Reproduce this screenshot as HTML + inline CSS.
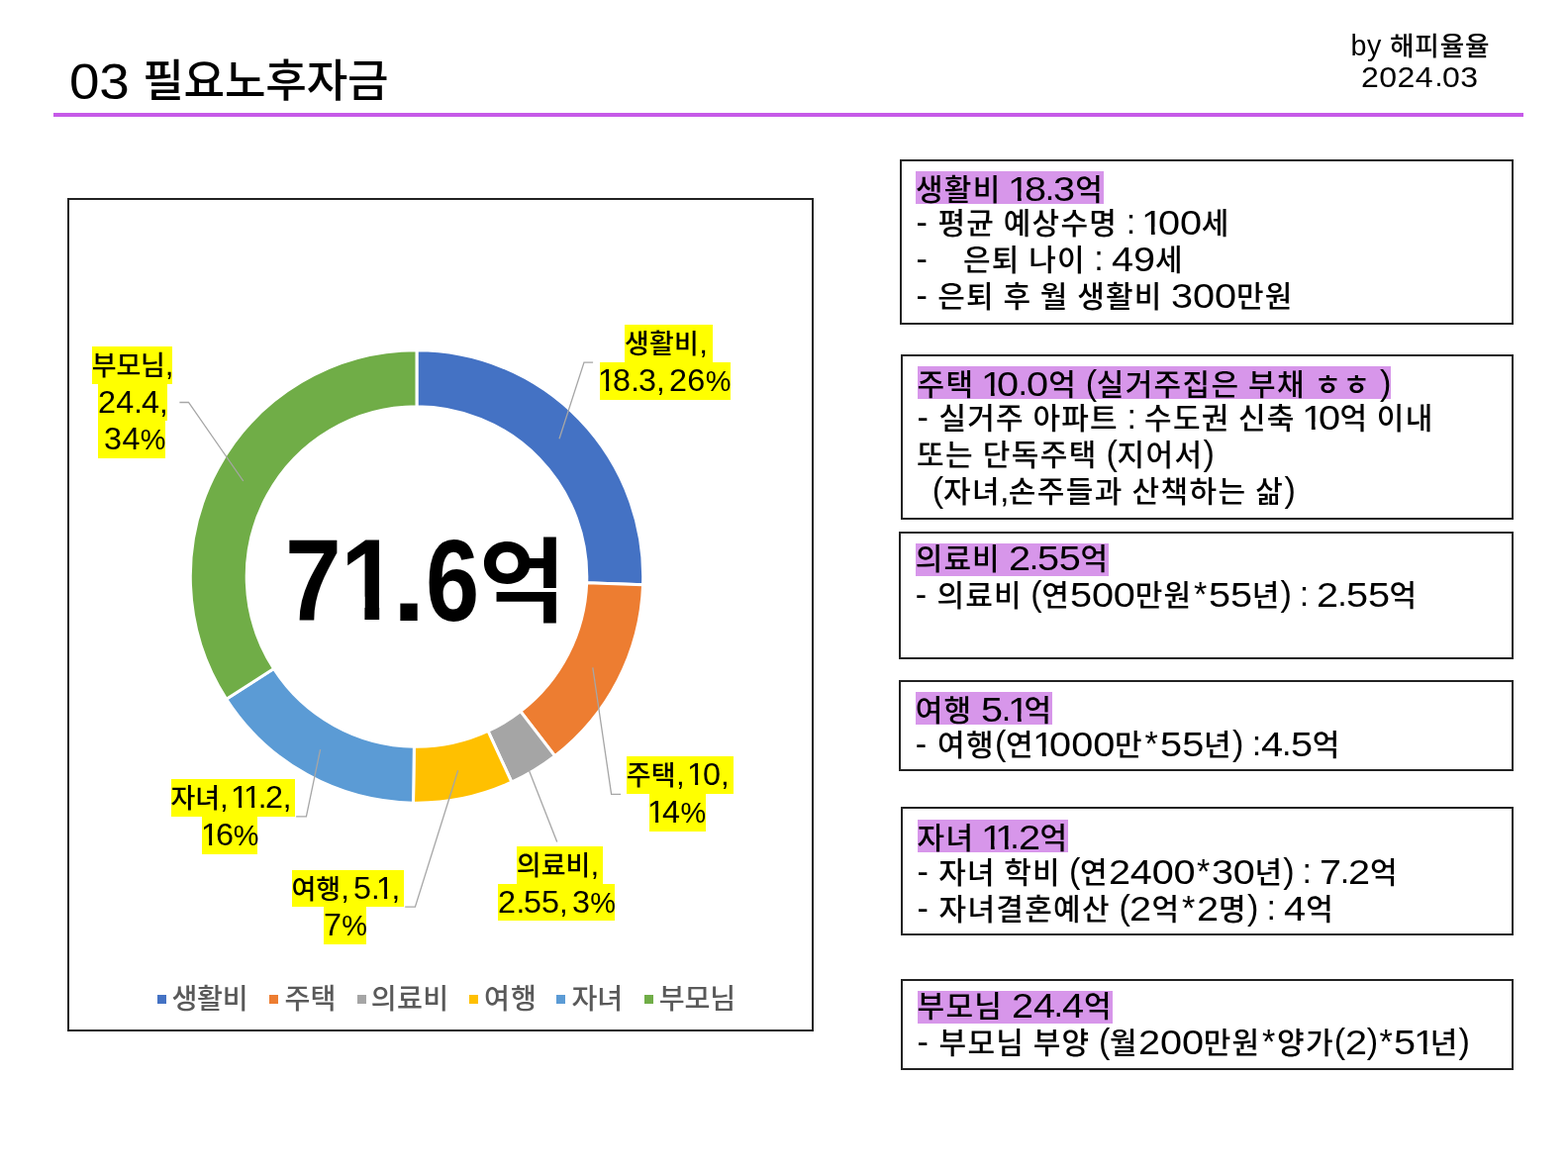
<!DOCTYPE html>
<html lang="ko">
<head>
<meta charset="utf-8">
<title>03 필요노후자금</title>
<style>
html,body{margin:0;padding:0;background:#fff;}
body{width:1584px;height:1188px;position:relative;overflow:hidden;
 font-family:"Liberation Sans","Noto Sans CJK KR",sans-serif;color:#000;}
.t{position:absolute;white-space:pre;--x:0px;--ds:1.16;--dm:0.089em;letter-spacing:calc(-0.01em + var(--x));word-spacing:-0.016em;}
.k{font-weight:500;font-size:0.92em;letter-spacing:var(--x);}
.d,.n{position:relative;top:0.035em;}
.d{display:inline-block;--n:1;transform:scaleX(var(--ds));transform-origin:0 50%;margin-right:calc(var(--n)*var(--dm));letter-spacing:var(--x);}
.n{display:inline-block;line-height:1em;transform:scaleX(var(--ds));transform-origin:0 50%;margin:0 -0.076em 0 -0.06em;letter-spacing:var(--x);
 clip-path:polygon(0 0,100% 0,100% 0.6em,0.345em 0.6em,0.345em 1em,0.25em 1em,0.25em 0.6em,0 0.6em);}
.p{letter-spacing:calc(-0.035em + var(--x));}
.c{margin-left:-0.03em;letter-spacing:calc(-0.03em + var(--x));}
.h{letter-spacing:calc(0.06em + var(--x));}
.w{margin-left:0.05em;letter-spacing:calc(0.05em + var(--x));}
.title{font-size:50.8px;line-height:60px;--ds:1.08;--dm:0.07em;word-spacing:-0.05em;}
.title .k{font-size:45.2px;}
.rule{position:absolute;left:54px;top:113.5px;width:1484.5px;height:4.4px;background:#c65ae8;}
.by{font-size:28.7px;line-height:32px;--ds:1.067;--dm:0.057em;}
.by .k{font-size:26.7px;}
.by .d,.by .n{font-size:30px;}
.chart{position:absolute;left:68px;top:200px;width:750px;height:838px;border:2px solid #222;}
.box{position:absolute;border:2px solid #222;box-sizing:border-box;}
.ln{font-size:34.2px;line-height:35px;height:34px;}
.ln .k{font-size:30px;letter-spacing:calc(1.3px + var(--x));}
.hl{line-height:29.8px !important;}
.hl{background:#d796ea;}
.lab{background:#ffff00;font-size:31.4px;line-height:37.2px;height:38px;word-spacing:-0.1em;letter-spacing:var(--x);--ds:1.03;--dm:0.017em;}
.lab .k{font-size:27px;}
.lab .d,.lab .n{top:0;}
.lab .c{margin-left:0;letter-spacing:calc(-0.05em + var(--x));}
.lab .p{font-size:0.92em;letter-spacing:calc(-0.03em + var(--x));}
.leg{color:#595959;font-size:28.2px;line-height:30px;font-family:"Noto Sans CJK KR","Liberation Sans",sans-serif;}
.leg .k{font-weight:500;font-size:1em;letter-spacing:calc(-1.5px + var(--x));}
.mk{position:absolute;width:9px;height:9px;top:1004.5px;}
.big{position:absolute;left:0;top:0;font-weight:bold;font-size:100px;line-height:150px;white-space:pre;}
.big span{position:absolute;display:block;transform-origin:0 0;}
.big .k{font-weight:bold;font-size:1em;letter-spacing:0;}
.big .one{clip-path:polygon(0 0,100% 0,100% 0.9em,0.372em 0.9em,0.372em 1.2em,0.232em 1.2em,0.232em 0.9em,0 0.9em);}
svg{position:absolute;left:0;top:0;}
</style>
</head>
<body>

<div id="ttl" class="t title" style="left:70.00px;top:51.20px;--x:-0.188px;"><span class="d" style="--n:2">03</span> <span class="k">필요노후자금</span></div>
<div class="rule"></div>
<div id="by1" class="t by" style="left:1364.50px;top:30.20px;--x:0.833px;">by <span class="k">해피율율</span></div>
<div id="by2" class="t by" style="left:1375.00px;top:61.20px;--x:0.417px;"><span class="d" style="--n:4">2024</span><span class="c">.</span><span class="d" style="--n:2">03</span></div>
<div class="chart"></div>
<svg width="1584" height="1188" viewBox="0 0 1584 1188">
<path d="M421.00 353.80A228.70 228.70 0 0 1 649.55 590.78L592.69 588.72A171.80 171.80 0 0 0 421.00 410.70Z" fill="#4472c4" stroke="#fff" stroke-width="3" stroke-linejoin="miter"/>
<path d="M649.55 590.78A228.70 228.70 0 0 1 560.57 763.67L525.85 718.60A171.80 171.80 0 0 0 592.69 588.72Z" fill="#ed7d31" stroke="#fff" stroke-width="3" stroke-linejoin="miter"/>
<path d="M560.57 763.67A228.70 228.70 0 0 1 516.86 790.14L493.01 738.48A171.80 171.80 0 0 0 525.85 718.60Z" fill="#a5a5a5" stroke="#fff" stroke-width="3" stroke-linejoin="miter"/>
<path d="M516.86 790.14A228.70 228.70 0 0 1 417.49 811.17L418.36 754.28A171.80 171.80 0 0 0 493.01 738.48Z" fill="#ffc000" stroke="#fff" stroke-width="3" stroke-linejoin="miter"/>
<path d="M417.49 811.17A228.70 228.70 0 0 1 228.69 706.28L276.54 675.48A171.80 171.80 0 0 0 418.36 754.28Z" fill="#5b9bd5" stroke="#fff" stroke-width="3" stroke-linejoin="miter"/>
<path d="M228.69 706.28A228.70 228.70 0 0 1 421.00 353.80L421.00 410.70A171.80 171.80 0 0 0 276.54 675.48Z" fill="#70ad47" stroke="#fff" stroke-width="3" stroke-linejoin="miter"/>
<polyline points="565.0,443.3 590.0,366.1 599.1,366.1" fill="none" stroke="#a6a6a6" stroke-width="1.3"/>
<polyline points="598.8,674.4 617.6,802.4 627.1,802.4" fill="none" stroke="#a6a6a6" stroke-width="1.3"/>
<polyline points="534.7,779.1 562.7,850.6" fill="none" stroke="#a6a6a6" stroke-width="1.3"/>
<polyline points="462.7,778.3 419.4,916.1 409.2,916.1" fill="none" stroke="#a6a6a6" stroke-width="1.3"/>
<polyline points="323.6,757.1 309.4,824.8 299.1,824.8" fill="none" stroke="#a6a6a6" stroke-width="1.3"/>
<polyline points="245.8,486.0 190.5,406.5 181.4,406.5" fill="none" stroke="#a6a6a6" stroke-width="1.3"/>
</svg>
<div id="lab0" class="t lab" style="left:630.90px;top:328.20px;--x:0.266px;height:37.9px;"><span class="k">생활비</span><span class="c">,</span> </div>
<div id="lab1" class="t lab" style="left:605.50px;top:366.10px;--x:0.255px;height:37.8px;"><span class="n">1</span><span class="d">8</span><span class="c">.</span><span class="d">3</span><span class="c">,</span> <span class="d" style="--n:2">26</span><span class="p">%</span></div>
<div id="lab2" class="t lab" style="left:632.72px;top:764.20px;--x:0.262px;height:38.2px;"><span class="k">주택</span><span class="c">,</span> <span class="n">1</span><span class="d">0</span><span class="c">,</span> </div>
<div id="lab3" class="t lab" style="left:655.90px;top:802.40px;--x:0.260px;height:37.8px;"><span class="n">1</span><span class="d">4</span><span class="p">%</span></div>
<div id="lab4" class="t lab" style="left:521.82px;top:855.20px;--x:0.063px;height:37.8px;"><span class="k">의료비</span><span class="c">,</span> </div>
<div id="lab5" class="t lab" style="left:503.32px;top:893.00px;--x:0.135px;height:37.3px;"><span class="d">2</span><span class="c">.</span><span class="d" style="--n:2">55</span><span class="c">,</span> <span class="d">3</span><span class="p">%</span></div>
<div id="lab6" class="t lab" style="left:294.50px;top:879.10px;--x:0.014px;height:37.0px;"><span class="k">여행</span><span class="c">,</span> <span class="d">5</span><span class="c">.</span><span class="n">1</span><span class="c">,</span> </div>
<div id="lab7" class="t lab" style="left:327.40px;top:916.10px;--x:-0.203px;height:38.3px;"><span class="d">7</span><span class="p">%</span></div>
<div id="lab8" class="t lab" style="left:172.60px;top:787.40px;--x:-0.109px;height:37.4px;"><span class="k">자녀</span><span class="c">,</span> <span class="n">1</span><span class="n">1</span><span class="c">.</span><span class="d">2</span><span class="c">,</span> </div>
<div id="lab9" class="t lab" style="left:204.40px;top:824.80px;--x:0.026px;height:38.4px;"><span class="n">1</span><span class="d">6</span><span class="p">%</span></div>
<div id="lab10" class="t lab" style="left:92.72px;top:349.70px;--x:-0.148px;height:37.9px;"><span class="k">부모님</span><span class="c">,</span></div>
<div id="lab11" class="t lab" style="left:98.82px;top:387.60px;--x:0.278px;height:37.8px;"><span class="d" style="--n:2">24</span><span class="c">.</span><span class="d">4</span><span class="c">,</span></div>
<div id="lab12" class="t lab" style="left:98.82px;top:425.40px;--x:0.449px;height:37.9px;"> <span class="d" style="--n:2">34</span><span class="p">%</span></div>
<div class="big"><span style="left:288.3px;top:496.8px;transform:scale(1.022,1.175)">7</span><span class="one" style="left:343.5px;top:496.8px;transform:scale(1.053,1.175)">1</span><span style="left:395.6px;top:499.0px;transform:scale(1.229,1.167)">.</span><span style="left:429.7px;top:498.6px;transform:scale(0.975,1.161)">6</span><span class="k" style="left:484.4px;top:517.7px;transform:scale(0.954,0.932)">억</span></div>
<div class="mk" style="left:158.6px;background:#4472c4"></div>
<div id="leg0" class="t leg" style="left:173.40px;top:992.20px;--x:1.250px;"><span class="k">생활비</span></div>
<div class="mk" style="left:272.3px;background:#ed7d31"></div>
<div id="leg1" class="t leg" style="left:287.60px;top:992.20px;--x:1.500px;"><span class="k">주택</span></div>
<div class="mk" style="left:360.6px;background:#a5a5a5"></div>
<div id="leg2" class="t leg" style="left:374.80px;top:992.20px;--x:1.750px;"><span class="k">의료비</span></div>
<div class="mk" style="left:473.9px;background:#ffc000"></div>
<div id="leg3" class="t leg" style="left:489.00px;top:992.20px;--x:2.500px;"><span class="k">여행</span></div>
<div class="mk" style="left:562.4px;background:#5b9bd5"></div>
<div id="leg4" class="t leg" style="left:577.40px;top:992.20px;--x:1.500px;"><span class="k">자녀</span></div>
<div class="mk" style="left:651.1px;background:#70ad47"></div>
<div id="leg5" class="t leg" style="left:665.80px;top:992.20px;--x:1.250px;"><span class="k">부모님</span></div>
<div class="box" style="left:908.5px;top:160.7px;width:620.2px;height:166.9px"></div>
<div id="b0_0" class="t ln hl" style="left:924.90px;top:172.90px;--x:0.016px;height:33.2px;line-height:33.2px;"><span class="k">생활비</span> <span class="n">1</span><span class="d">8</span><span class="c">.</span><span class="d">3</span><span class="k">억</span></div>
<div id="b0_1" class="t ln" style="left:925.40px;top:207.30px;--x:-0.033px;"><span class="h">-</span> <span class="k">평균</span> <span class="k">예상수명</span> : <span class="n">1</span><span class="d" style="--n:2">00</span><span class="k">세</span></div>
<div id="b0_2" class="t ln" style="left:925.40px;top:244.30px;--x:-0.067px;"><span class="h">-</span>    <span class="k">은퇴</span> <span class="k">나이</span> : <span class="d" style="--n:2">49</span><span class="k">세</span></div>
<div id="b0_3" class="t ln" style="left:925.40px;top:281.30px;--x:-0.088px;"><span class="h">-</span> <span class="k">은퇴</span> <span class="k">후</span> <span class="k">월</span> <span class="k">생활비</span> <span class="d" style="--n:3">300</span><span class="k">만원</span></div>
<div class="box" style="left:910.2px;top:357.7px;width:618.5px;height:167.1px"></div>
<div id="b1_0" class="t ln hl" style="left:926.60px;top:369.90px;--x:0.019px;height:33.2px;line-height:33.2px;"><span class="k">주택</span> <span class="n">1</span><span class="d">0</span><span class="c">.</span><span class="d">0</span><span class="k">억</span> (<span class="k">실거주집은</span> <span class="k">부채</span> <span class="k">ㅎㅎ</span> )</div>
<div id="b1_1" class="t ln" style="left:926.60px;top:404.30px;--x:-0.083px;"><span class="h">-</span> <span class="k">실거주</span> <span class="k">아파트</span> : <span class="k">수도권</span> <span class="k">신축</span> <span class="n">1</span><span class="d">0</span><span class="k">억</span> <span class="k">이내</span></div>
<div id="b1_2" class="t ln" style="left:926.10px;top:441.30px;--x:0.083px;"><span class="k">또는</span> <span class="k">단독주택</span> (<span class="k">지어서</span>)</div>
<div id="b1_3" class="t ln" style="left:933.10px;top:478.30px;--x:0.125px;"> (<span class="k">자녀</span><span class="c">,</span><span class="k">손주들과</span> <span class="k">산책하는</span> <span class="k">삶</span>)</div>
<div class="box" style="left:908.4px;top:537.2px;width:620.3px;height:129.3px"></div>
<div id="b2_0" class="t ln hl" style="left:924.82px;top:548.80px;--x:-0.274px;height:33.2px;line-height:33.2px;"><span class="k">의료비</span> <span class="d">2</span><span class="c">.</span><span class="d" style="--n:2">55</span><span class="k">억</span></div>
<div id="b2_1" class="t ln" style="left:924.80px;top:583.20px;--x:-0.140px;"><span class="h">-</span> <span class="k">의료비</span> (<span class="k">연</span><span class="d" style="--n:3">500</span><span class="k">만원</span><span class="w">*</span><span class="d" style="--n:2">55</span><span class="k">년</span>) : <span class="d">2</span><span class="c">.</span><span class="d" style="--n:2">55</span><span class="k">억</span></div>
<div class="box" style="left:908.4px;top:687.0px;width:620.3px;height:92.2px"></div>
<div id="b3_0" class="t ln hl" style="left:924.82px;top:699.20px;--x:-0.121px;height:33.2px;line-height:33.2px;"><span class="k">여행</span> <span class="d">5</span><span class="c">.</span><span class="n">1</span><span class="k">억</span></div>
<div id="b3_1" class="t ln" style="left:924.80px;top:733.60px;--x:0.071px;"><span class="h">-</span> <span class="k">여행</span>(<span class="k">연</span><span class="n">1</span><span class="d" style="--n:3">000</span><span class="k">만</span><span class="w">*</span><span class="d" style="--n:2">55</span><span class="k">년</span>) :<span class="d">4</span><span class="c">.</span><span class="d">5</span><span class="k">억</span></div>
<div class="box" style="left:910.2px;top:815.3px;width:618.5px;height:129.6px"></div>
<div id="b4_0" class="t ln hl" style="left:926.60px;top:827.50px;--x:-0.102px;height:33.2px;line-height:33.2px;"><span class="k">자녀</span> <span class="n">1</span><span class="n">1</span><span class="c">.</span><span class="d">2</span><span class="k">억</span></div>
<div id="b4_1" class="t ln" style="left:926.60px;top:862.50px;--x:-0.180px;"><span class="h">-</span> <span class="k">자녀</span> <span class="k">학비</span> (<span class="k">연</span><span class="d" style="--n:4">2400</span><span class="w">*</span><span class="d" style="--n:2">30</span><span class="k">년</span>) : <span class="d">7</span><span class="c">.</span><span class="d">2</span><span class="k">억</span></div>
<div id="b4_2" class="t ln" style="left:926.60px;top:899.50px;--x:-0.025px;"><span class="h">-</span> <span class="k">자녀결혼예산</span> (<span class="d">2</span><span class="k">억</span><span class="w">*</span><span class="d">2</span><span class="k">명</span>) : <span class="d">4</span><span class="k">억</span></div>
<div class="box" style="left:910.2px;top:988.7px;width:618.5px;height:92.5px"></div>
<div id="b5_0" class="t ln hl" style="left:926.60px;top:1000.90px;--x:-0.073px;height:33.2px;line-height:33.2px;"><span class="k">부모님</span> <span class="d" style="--n:2">24</span><span class="c">.</span><span class="d">4</span><span class="k">억</span></div>
<div id="b5_1" class="t ln" style="left:926.60px;top:1035.30px;--x:-0.058px;"><span class="h">-</span> <span class="k">부모님</span> <span class="k">부양</span> (<span class="k">월</span><span class="d" style="--n:3">200</span><span class="k">만원</span><span class="w">*</span><span class="k">양가</span>(<span class="d">2</span>)<span class="w">*</span><span class="d">5</span><span class="n">1</span><span class="k">년</span>)</div>
</body>
</html>
